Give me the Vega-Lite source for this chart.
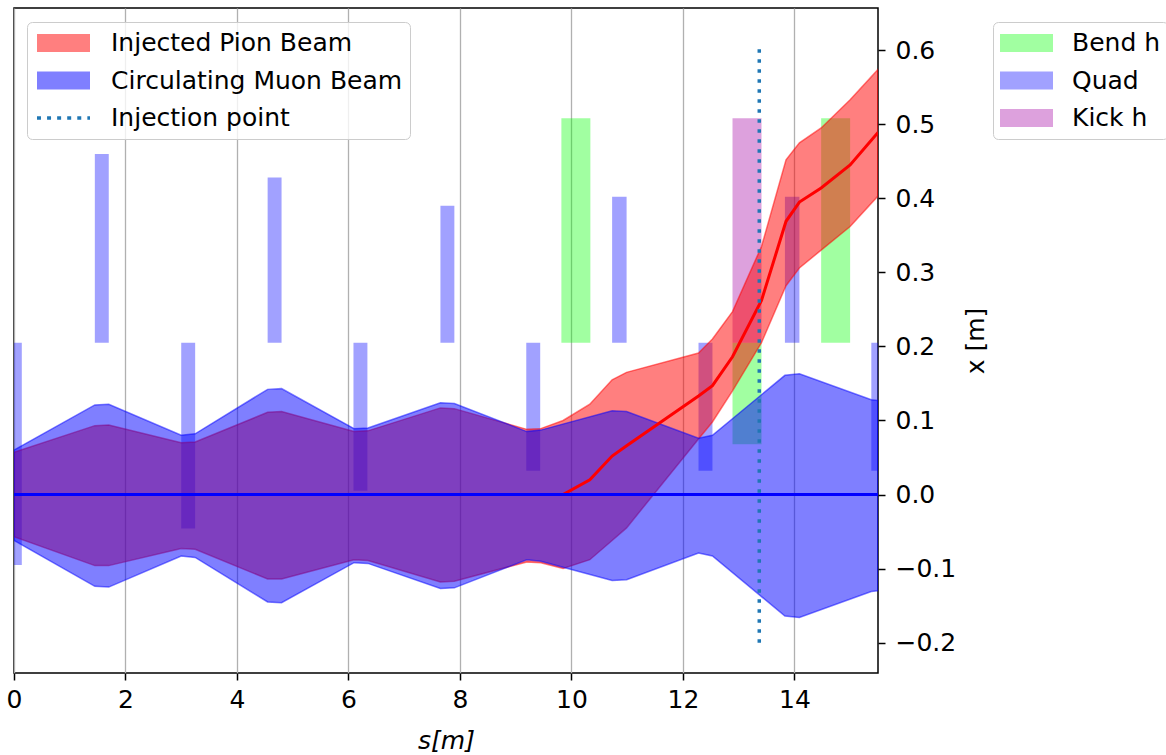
{
  "$schema": "https://vega.github.io/schema/vega-lite/v6.json",
  "width": 864,
  "height": 665,
  "autosize": {"type": "none"},
  "padding": {"left": 14, "top": 8, "right": 288, "bottom": 82},
  "config": {
    "font": "DejaVu Sans",
    "view": {"stroke": "black", "strokeWidth": 1.5},
    "axis": {"labelColor": "black", "titleColor": "black", "tickColor": "black", "labelFont": "DejaVu Sans", "titleFont": "DejaVu Sans"},
    "legend": {"labelColor": "black", "labelFont": "DejaVu Sans"}
  },
  "datasets": {
    "beam": [
      {"series": "Injected Pion Beam", "s": 0, "lo": -0.057, "hi": 0.057, "c": 0},
      {"series": "Injected Pion Beam", "s": 1.45, "lo": -0.096, "hi": 0.093, "c": 0},
      {"series": "Injected Pion Beam", "s": 1.70, "lo": -0.096, "hi": 0.094, "c": 0},
      {"series": "Injected Pion Beam", "s": 3.0, "lo": -0.073, "hi": 0.070, "c": 0},
      {"series": "Injected Pion Beam", "s": 3.25, "lo": -0.074, "hi": 0.071, "c": 0},
      {"series": "Injected Pion Beam", "s": 4.55, "lo": -0.114, "hi": 0.111, "c": 0},
      {"series": "Injected Pion Beam", "s": 4.8, "lo": -0.114, "hi": 0.112, "c": 0},
      {"series": "Injected Pion Beam", "s": 6.1, "lo": -0.088, "hi": 0.085, "c": 0},
      {"series": "Injected Pion Beam", "s": 6.35, "lo": -0.089, "hi": 0.086, "c": 0},
      {"series": "Injected Pion Beam", "s": 7.65, "lo": -0.118, "hi": 0.117, "c": 0},
      {"series": "Injected Pion Beam", "s": 7.9, "lo": -0.117, "hi": 0.116, "c": 0},
      {"series": "Injected Pion Beam", "s": 9.2, "lo": -0.091, "hi": 0.088, "c": 0},
      {"series": "Injected Pion Beam", "s": 9.45, "lo": -0.092, "hi": 0.089, "c": 0},
      {"series": "Injected Pion Beam", "s": 9.85, "lo": -0.1, "hi": 0.1, "c": 0},
      {"series": "Injected Pion Beam", "s": 10.33, "lo": -0.088, "hi": 0.122, "c": 0.02},
      {"series": "Injected Pion Beam", "s": 10.73, "lo": -0.062, "hi": 0.155, "c": 0.052},
      {"series": "Injected Pion Beam", "s": 10.99, "lo": -0.045, "hi": 0.165, "c": 0.066},
      {"series": "Injected Pion Beam", "s": 12.28, "lo": 0.075, "hi": 0.191, "c": 0.133},
      {"series": "Injected Pion Beam", "s": 12.53, "lo": 0.098, "hi": 0.21, "c": 0.147},
      {"series": "Injected Pion Beam", "s": 12.89, "lo": 0.14, "hi": 0.247, "c": 0.186},
      {"series": "Injected Pion Beam", "s": 13.41, "lo": 0.205, "hi": 0.335, "c": 0.262},
      {"series": "Injected Pion Beam", "s": 13.85, "lo": 0.282, "hi": 0.452, "c": 0.369},
      {"series": "Injected Pion Beam", "s": 14.09, "lo": 0.306, "hi": 0.475, "c": 0.395},
      {"series": "Injected Pion Beam", "s": 14.48, "lo": 0.33, "hi": 0.495, "c": 0.414},
      {"series": "Injected Pion Beam", "s": 15.0, "lo": 0.362, "hi": 0.533, "c": 0.445},
      {"series": "Injected Pion Beam", "s": 15.5, "lo": 0.403, "hi": 0.574, "c": 0.489},
      {"series": "Circulating Muon Beam", "s": 0, "lo": -0.062, "hi": 0.06, "c": 0},
      {"series": "Circulating Muon Beam", "s": 1.45, "lo": -0.124, "hi": 0.121, "c": 0},
      {"series": "Circulating Muon Beam", "s": 1.70, "lo": -0.125, "hi": 0.122, "c": 0},
      {"series": "Circulating Muon Beam", "s": 3.0, "lo": -0.083, "hi": 0.080, "c": 0},
      {"series": "Circulating Muon Beam", "s": 3.25, "lo": -0.085, "hi": 0.082, "c": 0},
      {"series": "Circulating Muon Beam", "s": 4.55, "lo": -0.145, "hi": 0.142, "c": 0},
      {"series": "Circulating Muon Beam", "s": 4.8, "lo": -0.146, "hi": 0.143, "c": 0},
      {"series": "Circulating Muon Beam", "s": 6.1, "lo": -0.092, "hi": 0.089, "c": 0},
      {"series": "Circulating Muon Beam", "s": 6.35, "lo": -0.093, "hi": 0.090, "c": 0},
      {"series": "Circulating Muon Beam", "s": 7.65, "lo": -0.127, "hi": 0.124, "c": 0},
      {"series": "Circulating Muon Beam", "s": 7.9, "lo": -0.126, "hi": 0.123, "c": 0},
      {"series": "Circulating Muon Beam", "s": 9.2, "lo": -0.088, "hi": 0.085, "c": 0},
      {"series": "Circulating Muon Beam", "s": 9.45, "lo": -0.090, "hi": 0.087, "c": 0},
      {"series": "Circulating Muon Beam", "s": 10.73, "lo": -0.116, "hi": 0.113, "c": 0},
      {"series": "Circulating Muon Beam", "s": 10.99, "lo": -0.115, "hi": 0.112, "c": 0},
      {"series": "Circulating Muon Beam", "s": 12.28, "lo": -0.079, "hi": 0.076, "c": 0},
      {"series": "Circulating Muon Beam", "s": 12.53, "lo": -0.083, "hi": 0.080, "c": 0},
      {"series": "Circulating Muon Beam", "s": 13.83, "lo": -0.164, "hi": 0.161, "c": 0},
      {"series": "Circulating Muon Beam", "s": 14.09, "lo": -0.166, "hi": 0.163, "c": 0},
      {"series": "Circulating Muon Beam", "s": 15.38, "lo": -0.131, "hi": 0.128, "c": 0},
      {"series": "Circulating Muon Beam", "s": 15.5, "lo": -0.130, "hi": 0.127, "c": 0}
    ],
    "magnets": [
      {"type": "Quad", "s0": 0, "s1": 0.14, "y0": -0.095, "y1": 0.205},
      {"type": "Quad", "s0": 1.45, "s1": 1.70, "y0": 0.205, "y1": 0.46},
      {"type": "Quad", "s0": 3.0, "s1": 3.25, "y0": -0.046, "y1": 0.205},
      {"type": "Quad", "s0": 4.55, "s1": 4.80, "y0": 0.205, "y1": 0.428},
      {"type": "Quad", "s0": 6.09, "s1": 6.34, "y0": 0.005, "y1": 0.205},
      {"type": "Quad", "s0": 7.65, "s1": 7.90, "y0": 0.205, "y1": 0.39},
      {"type": "Quad", "s0": 9.19, "s1": 9.44, "y0": 0.032, "y1": 0.205},
      {"type": "Quad", "s0": 10.73, "s1": 10.99, "y0": 0.205, "y1": 0.402},
      {"type": "Quad", "s0": 12.28, "s1": 12.53, "y0": 0.032, "y1": 0.205},
      {"type": "Quad", "s0": 13.83, "s1": 14.09, "y0": 0.205, "y1": 0.402},
      {"type": "Quad", "s0": 15.38, "s1": 15.63, "y0": 0.032, "y1": 0.205},
      {"type": "Bend h", "s0": 9.82, "s1": 10.34, "y0": 0.205, "y1": 0.508},
      {"type": "Bend h", "s0": 12.89, "s1": 13.41, "y0": 0.068, "y1": 0.205},
      {"type": "Bend h", "s0": 14.48, "s1": 15.0, "y0": 0.205, "y1": 0.508},
      {"type": "Kick h", "s0": 12.89, "s1": 13.41, "y0": 0.205, "y1": 0.508}
    ],
    "inj": [
      {"s": 13.37, "y0": -0.2, "y1": 0.61}
    ]
  },
  "layer": [
    {
      "data": {"name": "magnets"},
      "mark": {"type": "rect", "opacity": 0.37, "clip": true},
      "encoding": {
        "x": {"field": "s0", "type": "quantitative", "title": "s[m]",
          "scale": {"domain": [0, 15.5], "nice": false, "zero": false},
          "axis": {"values": [0, 2, 4, 6, 8, 10, 12, 14], "format": "d", "labelFlush": false, "labelFontSize": 25, "tickSize": 7, "tickWidth": 1.5, "labelPadding": 7, "domain": false, "grid": true, "gridColor": "#b0b0b0", "gridWidth": 1.3, "titleFontSize": 25, "titleFontWeight": "normal", "titleFontStyle": "italic", "titlePadding": 16}},
        "x2": {"field": "s1"},
        "y": {"field": "y0", "type": "quantitative", "title": "x [m]",
          "scale": {"domain": [-0.241, 0.657], "nice": false, "zero": false},
          "axis": {"orient": "right", "values": [-0.2, -0.1, 0, 0.1, 0.2, 0.3, 0.4, 0.5, 0.6], "labelExpr": "replace(format(datum.value, '.1f'), '-', '\u2212')", "labelFlush": false, "labelFontSize": 25, "tickSize": 7, "tickWidth": 1.5, "labelPadding": 10, "domain": false, "grid": false, "titleFontSize": 25, "titleFontWeight": "normal", "titleAngle": 270, "titleBaseline": "top", "titlePadding": 8}},
        "y2": {"field": "y1"},
        "fill": {"field": "type", "type": "nominal",
          "scale": {"domain": ["Bend h", "Quad", "Kick h"], "range": ["#00ff00", "#0000ff", "#a300a3"]},
          "legend": {"orient": "none", "legendX": 979, "legendY": 14, "title": null, "symbolType": "M-1,-0.34H1V0.34H-1Z", "symbolSize": 2809, "symbolStrokeWidth": 0, "symbolOpacity": 0.37, "clipHeight": 28, "rowPadding": 9.5, "labelFontSize": 25, "labelOffset": 19, "padding": 7, "fillColor": "rgba(255,255,255,0.8)", "strokeColor": "#cccccc", "cornerRadius": 5, "labelLimit": 400}}
      }
    },
    {
      "data": {"name": "beam"},
      "transform": [{"filter": "datum.series === 'Injected Pion Beam'"}],
      "mark": {"type": "area", "fillOpacity": 0.5, "stroke": "red", "strokeOpacity": 0.5, "strokeWidth": 1.5, "clip": true},
      "encoding": {
        "x": {"field": "s", "type": "quantitative", "title": "s[m]"},
        "y": {"field": "hi", "type": "quantitative", "title": "x [m]"},
        "y2": {"field": "lo"},
        "color": {"field": "series", "type": "nominal",
          "scale": {"domain": ["Injected Pion Beam", "Circulating Muon Beam", "Injection point"], "range": ["red", "blue", "#1f77b4"]},
          "legend": {"orient": "none", "legendX": 13, "legendY": 14, "title": null, "symbolType": "M-1,-0.34H1V0.34H-1Z", "symbolSize": 2809, "symbolStrokeWidth": 0, "clipHeight": 28, "rowPadding": 9.5, "labelFontSize": 25, "labelOffset": 21, "symbolOffset": 3, "padding": 7, "fillColor": "rgba(255,255,255,0.8)", "strokeColor": "#cccccc", "cornerRadius": 5, "labelLimit": 400}}
      }
    },
    {
      "data": {"name": "beam"},
      "transform": [{"filter": "datum.series === 'Circulating Muon Beam'"}],
      "mark": {"type": "area", "fillOpacity": 0.5, "stroke": "blue", "strokeOpacity": 0.5, "strokeWidth": 1.5, "clip": true},
      "encoding": {
        "x": {"field": "s", "type": "quantitative", "title": "s[m]"},
        "y": {"field": "hi", "type": "quantitative", "title": "x [m]"},
        "y2": {"field": "lo"},
        "color": {"field": "series", "type": "nominal"}
      }
    },
    {
      "data": {"name": "beam"},
      "transform": [{"filter": "false"}],
      "mark": {"type": "point", "filled": true},
      "encoding": {
        "x": {"field": "s", "type": "quantitative", "title": "s[m]"},
        "y": {"field": "hi", "type": "quantitative", "title": "x [m]"},
        "color": {"field": "series", "type": "nominal"},
        "shape": {"field": "series", "type": "nominal",
          "scale": {"domain": ["Injected Pion Beam", "Circulating Muon Beam", "Injection point"],
            "range": ["M-1,-0.34H1V0.34H-1Z", "M-1,-0.34H1V0.34H-1Z", "M-1,-0.07h0.15v0.14h-0.15Z M-0.62,-0.07h0.15v0.14h-0.15Z M-0.24,-0.07h0.15v0.14h-0.15Z M0.14,-0.07h0.15v0.14h-0.15Z M0.52,-0.07h0.15v0.14h-0.15Z M0.9,-0.07h0.1v0.14h-0.1Z"]},
          "legend": {"orient": "none", "legendX": 13, "legendY": 14, "title": null, "symbolSize": 2809, "symbolStrokeWidth": 0, "clipHeight": 28, "rowPadding": 9.5, "labelFontSize": 25, "labelOffset": 21, "symbolOffset": 3, "padding": 7, "fillColor": "rgba(255,255,255,0.8)", "strokeColor": "#cccccc", "cornerRadius": 5, "labelLimit": 400}},
        "opacity": {"field": "series", "type": "nominal",
          "scale": {"type": "ordinal", "domain": ["Injected Pion Beam", "Circulating Muon Beam", "Injection point"], "range": [0.5, 0.5, 1]},
          "legend": {"orient": "none", "legendX": 13, "legendY": 14, "title": null, "symbolSize": 2809, "symbolStrokeWidth": 0, "clipHeight": 28, "rowPadding": 9.5, "labelFontSize": 25, "labelOffset": 21, "symbolOffset": 3, "padding": 7, "fillColor": "rgba(255,255,255,0.8)", "strokeColor": "#cccccc", "cornerRadius": 5, "labelLimit": 400}}
      }
    },
    {
      "data": {"name": "beam"},
      "transform": [{"filter": "datum.series === 'Injected Pion Beam'"}],
      "mark": {"type": "line", "color": "red", "strokeWidth": 3, "clip": true},
      "encoding": {
        "x": {"field": "s", "type": "quantitative", "title": "s[m]"},
        "y": {"field": "c", "type": "quantitative", "title": "x [m]"}
      }
    },
    {
      "data": {"name": "beam"},
      "transform": [{"filter": "datum.series === 'Circulating Muon Beam'"}],
      "mark": {"type": "line", "color": "blue", "strokeWidth": 3, "clip": true},
      "encoding": {
        "x": {"field": "s", "type": "quantitative", "title": "s[m]"},
        "y": {"field": "c", "type": "quantitative", "title": "x [m]"}
      }
    },
    {
      "data": {"name": "inj"},
      "mark": {"type": "rule", "color": "#1f77b4", "strokeWidth": 3.5, "strokeDash": [3.5, 6.5], "clip": true},
      "encoding": {
        "x": {"field": "s", "type": "quantitative", "title": "s[m]"},
        "y": {"field": "y0", "type": "quantitative", "title": "x [m]"},
        "y2": {"field": "y1"}
      }
    }
  ]
}
